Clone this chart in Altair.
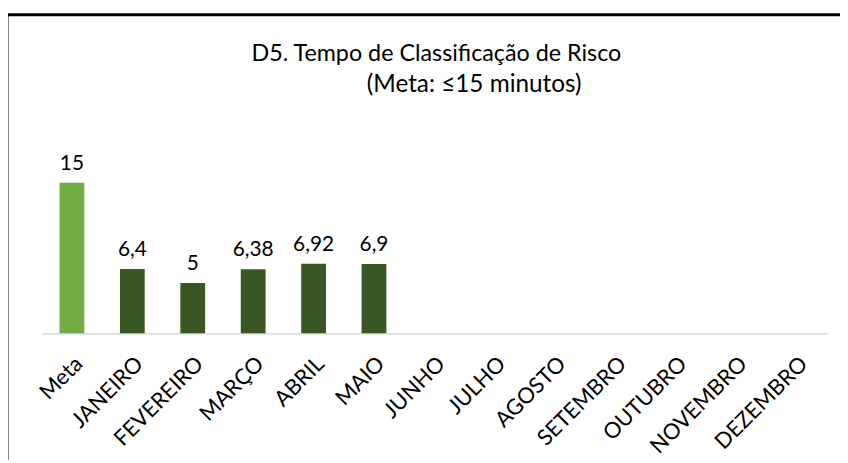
import altair as alt
import pandas as pd

categories = ["Meta", "JANEIRO", "FEVEREIRO", "MARÇO", "ABRIL", "MAIO", "JUNHO",
              "JULHO", "AGOSTO", "SETEMBRO", "OUTUBRO", "NOVEMBRO", "DEZEMBRO"]
values = [15, 6.4, 5, 6.38, 6.92, 6.9, None, None, None, None, None, None, None]
kinds = ["meta", "mes", "mes", "mes", "mes", "mes", "mes", "mes", "mes", "mes", "mes", "mes", "mes"]
title_line1 = "D5. Tempo de Classificação de Risco"
title_line2 = "(Meta: ≤15 minutos)"

labels = [None if v is None else (f"{v:g}".replace(".", ",")) for v in values]
df = pd.DataFrame({"cat": categories, "val": values, "kind": kinds, "lbl": labels})

FONT = "Lato"
W, H = 792, 182

x = alt.X("cat:N", sort=categories, scale=alt.Scale(domain=categories, paddingInner=0, paddingOuter=0),
          axis=alt.Axis(title=None, labelAngle=-45, labelFontSize=22, labelFont=FONT, labelColor="#000000",
                        labelPadding=20, ticks=False, domainColor="#D9D9D9", domainWidth=1.5, grid=False))
y = alt.Y("val:Q", scale=alt.Scale(domain=[0, 18], nice=False), axis=None)

bars = alt.Chart(df).mark_bar(size=25).encode(
    x=x, y=y,
    color=alt.Color("kind:N", scale=alt.Scale(domain=["meta", "mes"], range=["#70AD47", "#385723"]), legend=None),
)
text = alt.Chart(df).mark_text(baseline="bottom", dy=-9, fontSize=21, font=FONT, color="#000000").encode(
    x=alt.X("cat:N", sort=categories), y="val:Q", text="lbl:N"
)

t1 = alt.Chart(pd.DataFrame({"t": [title_line1]})).mark_text(fontSize=23.5, font=FONT, color="#000000", align="center", baseline="middle").encode(
    x=alt.value(440 - 42), y=alt.value(53 - 152), text="t:N")
t2 = alt.Chart(pd.DataFrame({"t": [title_line2]})).mark_text(fontSize=24.5, font=FONT, color="#000000", align="center", baseline="middle").encode(
    x=alt.value(478 - 42), y=alt.value(84 - 152), text="t:N")

frame_left = alt.Chart(pd.DataFrame({"a": [0]})).mark_rule(color="#000000", strokeWidth=3).encode(
    x=alt.value(7 - 42), y=alt.value(12 - 152), y2=alt.value(470 - 152))
frame_top = alt.Chart(pd.DataFrame({"a": [0]})).mark_rule(color="#000000", strokeWidth=3).encode(
    x=alt.value(5 - 42), x2=alt.value(860 - 42), y=alt.value(13 - 152))

chart = alt.layer(frame_left, frame_top, bars, text, t1, t2).properties(
    width=W, height=H,
    autosize=alt.AutoSizeParams(type="none"),
    padding={"left": 34, "top": 144, "right": 13, "bottom": 126},
    background="white",
).configure_view(stroke=None)

chart.save("out.html", embed_options={"renderer": "svg", "actions": False})
